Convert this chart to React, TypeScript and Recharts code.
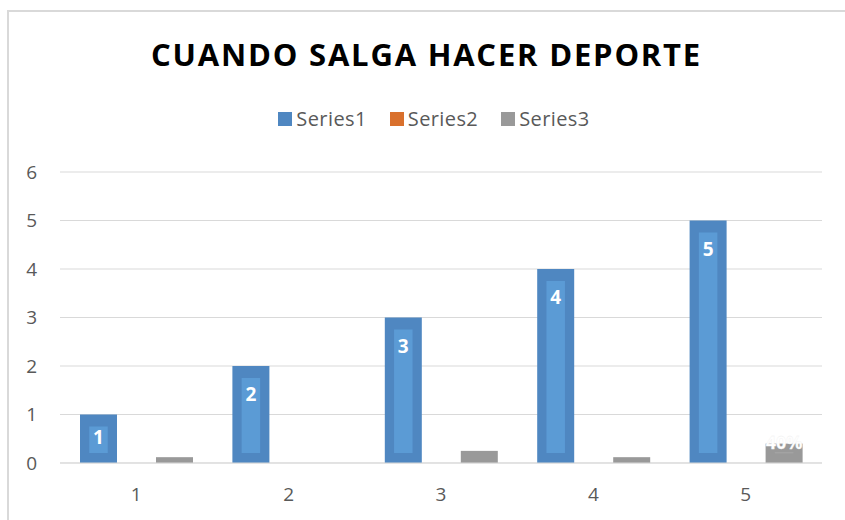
import React from 'react';
import {
  BarChart, Bar, XAxis, YAxis, CartesianGrid, Legend, LabelList
} from 'recharts';

const categories = ['1', '2', '3', '4', '5'];
const series1 = [1, 2, 3, 4, 5];
const series2 = [0, 0, 0, 0, 0];
const series3 = [0.12, 0, 0.25, 0.12, 0.4];
const series3Labels = ['', '', '', '', '40%'];
const yTicks = [0, 1, 2, 3, 4, 5, 6];

const data = categories.map((name, i) => ({
  name,
  Series1: series1[i],
  Series2: series2[i],
  Series3: series3[i],
  label3: series3Labels[i],
}));

const FONT = '"Open Sans", sans-serif';
const COLORS = {
  Series1: { outer: '#4f87c1', inner: '#5b9bd5' },
  Series2: { outer: '#d9702c', inner: '#ed7d31' },
  Series3: { outer: '#999999', inner: '#a8a8a8' },
};

// Excel-like bar: darker rim with a lighter inner panel
const makeShape = (key: keyof typeof COLORS) => (props: any) => {
  const { x, y, width, height } = props;
  if (!height || height <= 0) return <g />;
  const c = COLORS[key];
  const side = Math.min(10, width / 4);
  const top = Math.min(12, height * 0.45);
  const ih = Math.max(1, height - top - 10);
  return (
    <g>
      <rect x={x} y={y} width={width} height={height} fill={c.outer} />
      {height > 15 && (
        <rect x={x + side} y={y + top} width={width - 2 * side} height={ih} fill={c.inner} />
      )}
    </g>
  );
};

const Series1Label = (props: any) => {
  const { x, y, width, height, value } = props;
  const cy = y + Math.min(28, height / 2 - 1.5);
  return (
    <text
      x={x + width / 2}
      y={cy}
      fill="#ffffff"
      textAnchor="middle"
      dominantBaseline="central"
      style={{ fontFamily: FONT, fontWeight: 700, fontSize: 19 }}
    >
      {value}
    </text>
  );
};

const Series3Label = (props: any) => {
  const { x, y, width, value } = props;
  if (!value) return null;
  return (
    <text
      x={x + width / 2}
      y={y - 2}
      fill="#ffffff"
      stroke="#eeeeee"
      strokeWidth={0.3}
      textAnchor="middle"
      dominantBaseline="central"
      style={{ fontFamily: FONT, fontWeight: 700, fontSize: 18 }}
    >
      {value}
    </text>
  );
};

const LegendContent = (props: any) => {
  const { payload } = props;
  return (
    <div style={{ display: 'flex', justifyContent: 'center', alignItems: 'center' }}>
      {payload.map((entry: any, i: number) => (
        <div
          key={`leg-${i}`}
          style={{ display: 'flex', alignItems: 'center', marginLeft: i === 0 ? 0 : 23 }}
        >
          <span
            style={{
              display: 'inline-block', width: 14, height: 14,
              background: entry.color, marginRight: 4,
            }}
          />
          <span style={{ fontFamily: FONT, fontSize: 20, letterSpacing: 0.4, color: '#595959' }}>
            {entry.value}
          </span>
        </div>
      ))}
    </div>
  );
};

export default function App() {
  return (
    <div
      style={{
        position: 'absolute', left: 0, top: 0, width: 845, height: 520,
        overflow: 'hidden', background: '#ffffff',
      }}
    >
      <div
        style={{
          position: 'absolute', left: 7, top: 10, width: 900, height: 600,
          border: '2px solid #d9d9d9', boxSizing: 'border-box',
        }}
      />
      <div
        style={{
          position: 'absolute', left: 0, top: 34, width: 853, textAlign: 'center',
          fontFamily: FONT, fontWeight: 700, fontSize: 31, letterSpacing: 1.8,
          color: '#000000', lineHeight: '40px',
        }}
      >
        CUANDO SALGA HACER DEPORTE
      </div>
      <div style={{ position: 'absolute', left: 0, top: 0 }}>
        <BarChart
          width={845}
          height={520}
          data={data}
          margin={{ top: 172, right: 23, left: 0, bottom: 0 }}
          barGap={1}
          barSize={37}
        >
          <CartesianGrid vertical={false} stroke="#d9d9d9" strokeWidth={1} />
          <XAxis
            dataKey="name"
            height={57}
            axisLine={{ stroke: '#d9d9d9' }}
            tickLine={false}
            tickSize={0}
            tickMargin={25}
            tick={{ fill: '#595959', fontSize: 19, fontFamily: FONT }}
          />
          <YAxis
            width={60}
            domain={[0, 6]}
            ticks={yTicks}
            axisLine={false}
            tickLine={false}
            tickSize={0}
            tickMargin={23}
            tick={{ fill: '#595959', fontSize: 19, fontFamily: FONT }}
          />
          <Legend
            layout="horizontal"
            verticalAlign="middle"
            align="center"
            wrapperStyle={{ top: 105, left: 0, width: 868 }}
            content={<LegendContent />}
          />
          <Bar dataKey="Series1" fill={COLORS.Series1.outer} shape={makeShape('Series1')} isAnimationActive={false}>
            <LabelList dataKey="Series1" content={<Series1Label />} />
          </Bar>
          <Bar dataKey="Series2" fill={COLORS.Series2.outer} shape={makeShape('Series2')} isAnimationActive={false} />
          <Bar dataKey="Series3" fill={COLORS.Series3.outer} shape={makeShape('Series3')} isAnimationActive={false}>
            <LabelList dataKey="label3" content={<Series3Label />} />
          </Bar>
        </BarChart>
      </div>
    </div>
  );
}
